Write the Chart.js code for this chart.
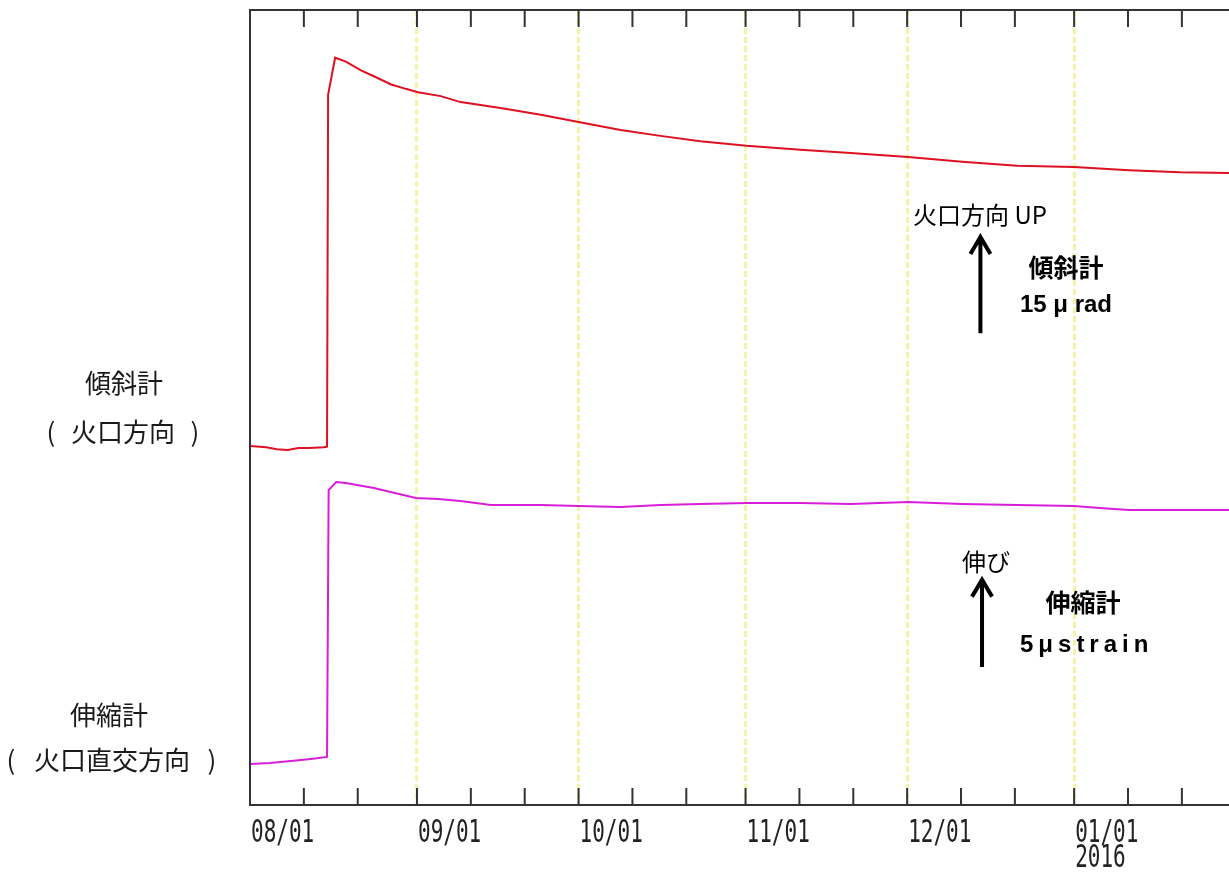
<!DOCTYPE html>
<html>
<head>
<meta charset="utf-8">
<script src="https://cdn.jsdelivr.net/npm/chart.js@4.4.0/dist/chart.umd.min.js"></script>
<style>
    html, body { margin: 0; padding: 0; background: #fff; overflow: hidden; }
    canvas { display: block; }
</style>
</head>
<body>
<canvas id="chart-tilt-strain" width="1229" height="874"></canvas>
<script>
// days counted from 2015-08-01
const tickDays = [0, 10, 20, 31, 41, 51, 61, 71, 81, 92, 102, 112, 122, 132, 142, 153, 163, 173];
const monthDays = [0, 31, 61, 92, 122, 153];
const monthLabels = ['08/01', '09/01', '10/01', '11/01', '12/01', ['01/01', '2016']];

// tiltmeter, crater direction (μrad, relative)
const tiltDays = [0, 3, 5, 7, 9, 11, 13.7, 14.3, 14.5, 15.8, 17.8, 20.6, 23, 26.1, 28.9, 31.2, 35.4, 39.1,
    46.5, 54, 61, 68.8, 76.2, 83.6, 92.2, 102.2, 111.5, 122.2, 132.2, 142.4, 153, 163.2, 172.7, 181.75];
const tiltValues = [54.2, 54.0, 53.7, 53.6, 53.9, 53.9, 54.0, 54.1, 107.2, 112.8, 112.2, 110.9, 110.0, 108.8, 108.1, 107.6, 107.0, 106.1,
    105.2, 104.2, 103.1, 101.9, 101.0, 100.2, 99.5, 98.9, 98.4, 97.8, 97.1, 96.5, 96.3, 95.8, 95.5, 95.4];

// extensometer, perpendicular to crater (μstrain, relative)
const strainDays = [0, 3.7, 7.6, 11.3, 14.3, 14.6, 16, 17.8, 23, 26.1, 30.8, 34.9, 39.1, 44.7, 54, 61, 68.8,
    76.2, 83.6, 92.2, 102.2, 111.5, 122.2, 132.2, 142.4, 153, 157.8, 163.2, 172.7, 181.75];
const strainValues = [2.27, 2.32, 2.43, 2.55, 2.66, 17.43, 17.87, 17.82, 17.54, 17.32, 16.99, 16.93, 16.82, 16.60, 16.60, 16.55, 16.49,
    16.60, 16.66, 16.71, 16.71, 16.66, 16.77, 16.66, 16.60, 16.55, 16.44, 16.33, 16.33, 16.33];

const tiltData = tiltDays.map((d, i) => ({x: d, y: tiltValues[i]}));
const strainData = strainDays.map((d, i) => ({x: d, y: strainValues[i]}));

function drawArrow(ctx, x, yTop, yBottom) {
    ctx.beginPath();
    ctx.moveTo(x, yBottom);
    ctx.lineTo(x, yTop + 3);
    ctx.moveTo(x - 10, yTop + 20);
    ctx.lineTo(x, yTop + 3);
    ctx.lineTo(x + 10, yTop + 20);
    ctx.stroke();
}

function text(ctx, s, x, y, font, align, spacing) {
    ctx.font = font;
    ctx.textAlign = align || 'center';
    ctx.letterSpacing = spacing || '0px';
    ctx.fillText(s, x, y);
}

// caption in parentheses with wide gaps, like "( 火口方向 )"
function parenText(ctx, s, xOpen, xMid, xClose, y, font) {
    text(ctx, '(', xOpen, y, font);
    text(ctx, s, xMid, y, font);
    text(ctx, ')', xClose, y, font);
}

const frameAndLabels = {
    id: 'frameAndLabels',
    afterDraw(chart) {
        const ctx = chart.ctx;
        const area = chart.chartArea;
        const xs = chart.scales.x;
        ctx.save();

        // frame and inward ticks
        ctx.strokeStyle = '#333';
        ctx.lineWidth = 2;
        ctx.beginPath();
        ctx.moveTo(area.right + 5, area.top);
        ctx.lineTo(area.left, area.top);
        ctx.lineTo(area.left, area.bottom);
        ctx.lineTo(area.right + 5, area.bottom);
        xs.ticks.forEach(t => {
            const px = xs.getPixelForValue(t.value);
            ctx.moveTo(px, area.top);
            ctx.lineTo(px, area.top + 17);
            ctx.moveTo(px, area.bottom);
            ctx.lineTo(px, area.bottom - 17);
        });
        ctx.stroke();

        // date labels (tall narrow font)
        ctx.fillStyle = '#222';
        ctx.font = '21px "DejaVu Sans Mono"';
        ctx.textAlign = 'left';
        ctx.textBaseline = 'alphabetic';
        xs.ticks.forEach(t => {
            if (!t.label) return;
            const lines = Array.isArray(t.label) ? t.label : [t.label];
            const px = xs.getPixelForValue(t.value) + 1;
            lines.forEach((s, i) => {
                ctx.save();
                ctx.translate(px, area.bottom + 37 + i * 25);
                ctx.scale(1, 1.55);
                ctx.fillText(s, 0, 0);
                ctx.restore();
            });
        });

        // left captions
        ctx.fillStyle = '#1a1a1a';
        ctx.textBaseline = 'middle';
        const cjk = '"Noto Sans CJK JP"';
        text(ctx, '傾斜計', 124, 383, '26px ' + cjk);
        parenText(ctx, '火口方向', 51, 123, 195, 432, '26px ' + cjk);
        text(ctx, '伸縮計', 109, 715, '26px ' + cjk);
        parenText(ctx, '火口直交方向', 11, 112, 212, 760, '26px ' + cjk);

        // scale arrows
        ctx.fillStyle = '#000';
        ctx.strokeStyle = '#000';
        ctx.lineWidth = 4;
        const yt = chart.scales.y, ys = chart.scales.y2;
        drawArrow(ctx, xs.getPixelForValue(135.6), yt.getPixelForValue(86.2), yt.getPixelForValue(71.2));
        drawArrow(ctx, xs.getPixelForValue(135.9), ys.getPixelForValue(12.64), ys.getPixelForValue(7.64));

        text(ctx, '火口方向 UP', 913, 215, '24px ' + cjk, 'left');
        text(ctx, '傾斜計', 1066, 267, 'bold 25px ' + cjk);
        text(ctx, '15 μ rad', 1066, 305, 'bold 24px "Liberation Sans"');
        text(ctx, '伸び', 962, 562, '24px ' + cjk, 'left');
        text(ctx, '伸縮計', 1083, 602, 'bold 25px ' + cjk);
        text(ctx, '5μstrain', 1020, 645, 'bold 24px "Liberation Sans"', 'left', '5px');
        ctx.restore();
    }
};

const config_tilt_strain = {
    type: 'line',
    data: {
        datasets: [
            {
                label: '傾斜計',
                data: tiltData,
                yAxisID: 'y',
                borderColor: '#dd1122',
                borderWidth: 2,
                pointRadius: 0,
                tension: 0
            },
            {
                label: '伸縮計',
                data: strainData,
                yAxisID: 'y2',
                borderColor: '#d81ed8',
                borderWidth: 2,
                pointRadius: 0,
                tension: 0
            }
        ]
    },
    plugins: [frameAndLabels],
    options: {
        responsive: false,
        animation: false,
        layout: {
            padding: {left: 250, top: 10, right: 0, bottom: 69}
        },
        plugins: {
            legend: {display: false},
            tooltip: {enabled: false}
        },
        scales: {
            x: {
                type: 'linear',
                min: 0,
                max: 181.75,
                afterBuildTicks: (scale) => {
                    scale.ticks = tickDays.map(v => ({value: v}));
                },
                ticks: {
                    display: false,
                    callback: (value) => {
                        const i = monthDays.indexOf(value);
                        return i >= 0 ? monthLabels[i] : '';
                    }
                },
                grid: {
                    drawTicks: false,
                    lineWidth: 3,
                    color: (ctx) => (ctx.tick && ctx.tick.value > 0 && monthDays.includes(ctx.tick.value))
                        ? 'rgba(240, 240, 140, 0.75)' : 'rgba(0, 0, 0, 0)'
                },
                border: {display: false, dash: [6, 3]}
            },
            y: {
                display: false,
                min: 0,
                max: 120
            },
            y2: {
                display: false,
                min: 0,
                max: 44
            }
        }
    }
};

var context_chart_tilt_strain = document.getElementById('chart-tilt-strain');
var chart_tilt_strain = new Chart(context_chart_tilt_strain, config_tilt_strain);
</script>
</body>
</html>
